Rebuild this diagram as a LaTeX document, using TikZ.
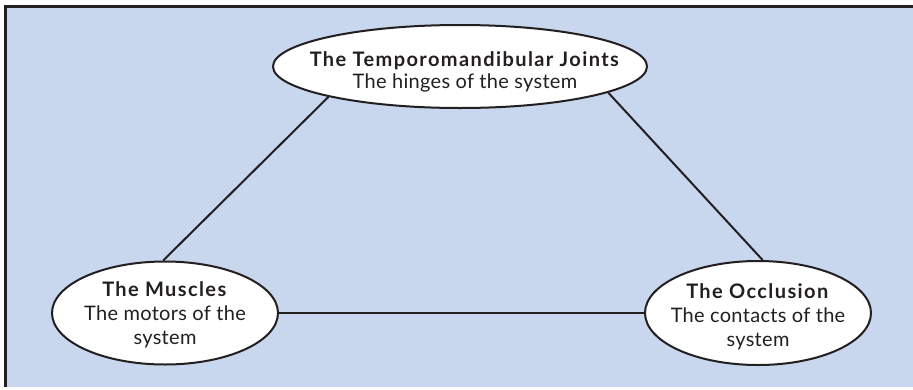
\documentclass[tikz,border=0pt]{standalone}
\usepackage{fontspec}
\setmainfont{Lato}[LetterSpace=1.5,BoldFeatures={LetterSpace=7}]
\usetikzlibrary{shapes.geometric}
\definecolor{bgblue}{RGB}{200,214,238}
\definecolor{ink}{RGB}{35,31,32}
\tikzset{
  oval/.style={ellipse, draw=ink, line width=2pt, fill=white, inner sep=0pt},
  lbl/.style={align=center, text=ink, font=\fontsize{20}{24}\selectfont, inner sep=0pt},
  link/.style={draw=ink, line width=2pt}
}
\begin{document}
\begin{tikzpicture}[x=1pt,y=-1pt]
\useasboundingbox (0,0) rectangle (913,389);
\fill[bgblue] (5,6) rectangle (913,387);
\draw[ink, line width=2.5pt] (5.5,387) -- (5.5,6.5) -- (913,6.5);
\node[oval, minimum width=374pt, minimum height=83pt] (T) at (460,66.5) {};
\node[oval, minimum width=226pt, minimum height=103pt] (L) at (165,313) {};
\node[oval, minimum width=226pt, minimum height=104pt] (R) at (758,313) {};
\node[lbl] (Tt) at ([xshift=5pt,yshift=-5pt]T.center) {\textbf{The Temporomandibular Joints}\\[-2pt]The hinges of the system};
\node[lbl] (Lt) at ([yshift=-2pt]L.center) {\textbf{The Muscles}\\The motors of the\\system};
\node[lbl] (Rt) at ([yshift=-4pt]R.center) {\textbf{The Occlusion}\\The contacts of the\\system};
\draw[link] (T.193) -- (L.92);
\draw[link] (T.350) -- (R.85);
\draw[link] (L.east) -- (R.west);
\end{tikzpicture}
\end{document}
